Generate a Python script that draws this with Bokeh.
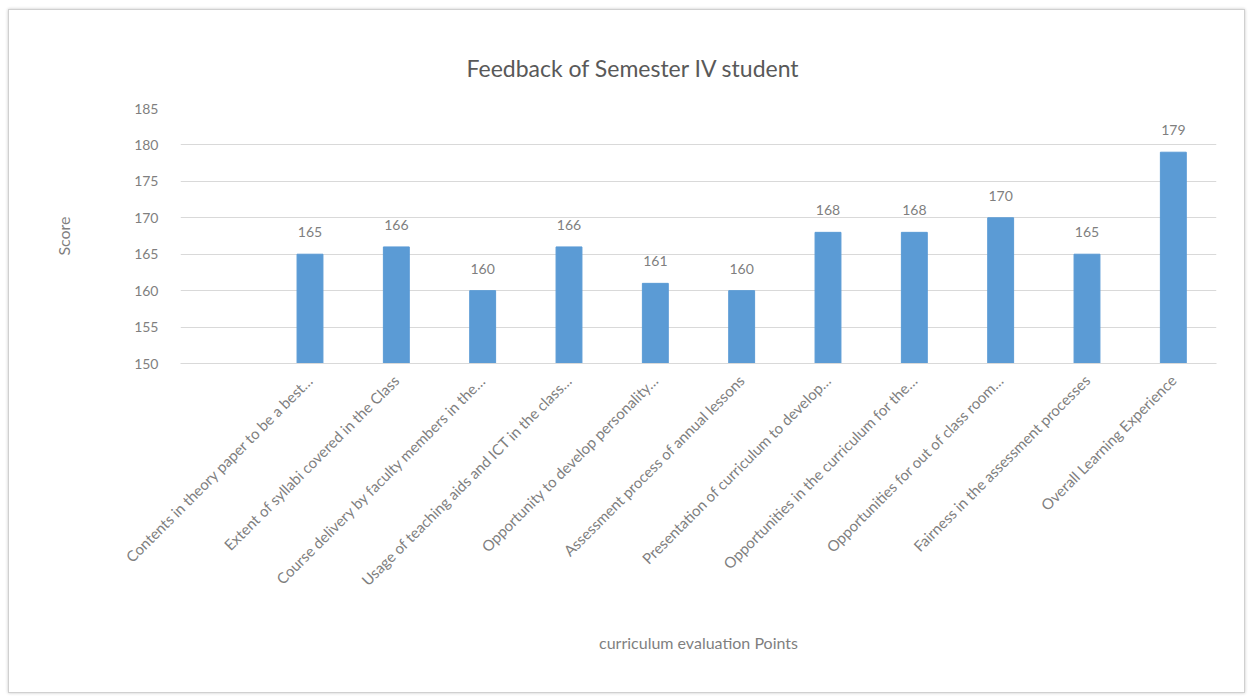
from bokeh.plotting import figure
from bokeh.models import ColumnDataSource, LabelSet, FactorRange, Range1d, SingleIntervalTicker
from bokeh.core.properties import value
from bokeh.embed import file_html
from bokeh.resources import INLINE

categories = [
    "",
    "Contents in theory paper to be a best…",
    "Extent of syllabi covered in the Class",
    "Course delivery by faculty members in the…",
    "Usage of teaching aids and ICT in the class…",
    "Opportunity to develop personality…",
    "Assessment process of annual lessons",
    "Presentation of curriculum to develop…",
    "Opportunities in the curriculum for the…",
    "Opportunities for out of class room…",
    "Fairness in the assessment processes",
    "Overall Learning Experience",
]
scores = [None, 165, 166, 160, 166, 161, 160, 168, 168, 170, 165, 179]
y_min, y_max, y_step = 150, 185, 5

FONT = "Lato"
GRAY = "#7f7f7f"

cats = categories[1:]
vals = scores[1:]
src = ColumnDataSource(dict(cat=cats, score=vals, lbl=[str(v) for v in vals]))

p = figure(
    x_range=FactorRange(*categories),
    y_range=Range1d(y_min, y_max),
    width=1237, height=684,
    output_backend="svg", toolbar_location=None,
    title="Feedback of Semester IV student",
    min_border_left=171, min_border_right=30,
    min_border_top=98, min_border_bottom=331,
)
p.styles = {"margin": "9px 0 0 8px", "border": "1px solid #d0d0d0",
            "box-shadow": "0 0 3px #c8c8c8"}

p.vbar(x="cat", top="score", bottom=y_min, width=0.3, color="#5B9BD5", source=src)

labels = LabelSet(x="cat", y="score", text="lbl", source=src, text_align="center",
                  text_baseline="bottom", y_offset=17, text_font_size="14px",
                  text_color=GRAY, text_font=value(FONT))
p.add_layout(labels)

p.title.align = "left"
p.title.offset = 286
p.title.standoff = 53
p.title.text_font = FONT
p.title.text_font_size = "23px"
p.title.text_font_style = "normal"
p.title.text_color = "#595959"

p.outline_line_color = None
p.background_fill_color = "white"
p.border_fill_color = "white"

p.xgrid.grid_line_color = None
p.ygrid.grid_line_color = "#d9d9d9"
p.ygrid.grid_line_width = 1

p.yaxis.ticker = SingleIntervalTicker(interval=y_step)
p.yaxis.axis_line_color = None
p.yaxis.major_tick_line_color = None
p.yaxis.minor_tick_line_color = None
p.yaxis.major_label_standoff = 16
p.yaxis.major_label_text_font = FONT
p.yaxis.major_label_text_font_size = "14px"
p.yaxis.major_label_text_color = GRAY
p.yaxis.axis_label = "Score"
p.yaxis.axis_label_text_font = FONT
p.yaxis.axis_label_text_font_size = "16px"
p.yaxis.axis_label_text_font_style = "normal"
p.yaxis.axis_label_text_color = GRAY
p.yaxis.axis_label_standoff = 58

p.xaxis.axis_line_color = "#d9d9d9"
p.xaxis.major_tick_line_color = None
p.xaxis.minor_tick_line_color = None
p.xaxis.major_label_orientation = 0.785398
p.xaxis.major_label_standoff = 8
p.xaxis.major_label_text_font = FONT
p.xaxis.major_label_text_font_size = "15px"
p.xaxis.major_label_text_color = GRAY
p.xaxis.axis_label = "curriculum evaluation Points"
p.xaxis.axis_label_text_font = FONT
p.xaxis.axis_label_text_font_size = "16px"
p.xaxis.axis_label_text_font_style = "normal"
p.xaxis.axis_label_text_color = GRAY
p.xaxis.axis_label_standoff = 35

open("out.html", "w").write(file_html(p, INLINE))
